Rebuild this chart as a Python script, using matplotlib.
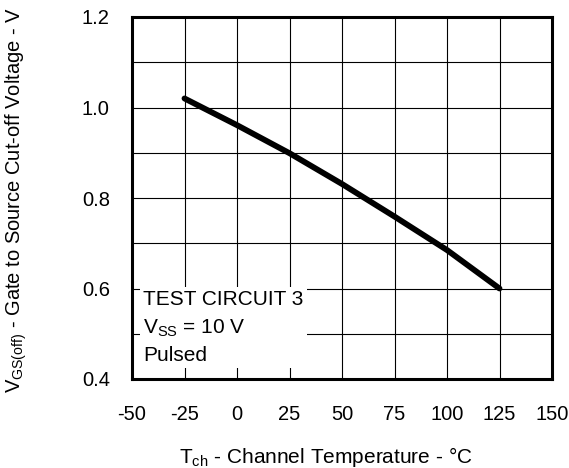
import matplotlib
matplotlib.use("Agg")
import matplotlib.pyplot as plt
from matplotlib.ticker import MultipleLocator

plt.rcParams['font.family'] = ['Liberation Sans', 'DejaVu Sans']
plt.rcParams['mathtext.fontset'] = 'custom'
plt.rcParams['mathtext.rm'] = 'Liberation Sans'
plt.rcParams['mathtext.it'] = 'Liberation Sans'
plt.rcParams['mathtext.bf'] = 'Liberation Sans'

temperature = [-25, 0, 25, 50, 75, 100, 125]
vgs_off = [1.02, 0.961, 0.899, 0.831, 0.759, 0.685, 0.600]

x_ticks = [-50, -25, 0, 25, 50, 75, 100, 125, 150]
y_ticks = [0.4, 0.6, 0.8, 1.0, 1.2]
y_tick_labels = ['0.4', '0.6', '0.8', '1.0', '1.2']

fig = plt.figure(figsize=(5.69, 4.68), dpi=100)
ax = fig.add_axes([132/569, 1-379/468, 420/569, 362/468])

ax.plot(temperature, vgs_off, color='black', lw=4.2, solid_capstyle='round', zorder=4)

ax.set_xlim(-50, 150)
ax.set_ylim(0.4, 1.2)
ax.set_xticks(x_ticks)
ax.set_xticklabels([str(t) for t in x_ticks])
ax.set_yticks(y_ticks)
ax.set_yticklabels(y_tick_labels)
ax.yaxis.set_minor_locator(MultipleLocator(0.1))
ax.grid(True, which='both', color='black', lw=0.8)
ax.set_axisbelow(True)
ax.tick_params(which='both', length=0, labelsize=14.5)
ax.tick_params(axis='x', pad=19)
ax.tick_params(axis='y', pad=16)
for s in ax.spines.values():
    s.set_linewidth(2.2)
    s.set_zorder(6)

ax.set_xlabel(r'T$_{\mathrm{ch}}$ - Channel Temperature - °C', fontsize=15, va='top')
ax.xaxis.set_label_coords(0.462, -0.183)
ax.set_ylabel(r'V$_{\mathrm{GS(off)}}$ - Gate to Source Cut-off Voltage - V', fontsize=14.5)
ax.yaxis.set_label_coords(-0.245, 0.494)

ax.text(0.027, 0.245, 'TEST CIRCUIT 3\nV$_{\\mathrm{SS}}$ = 10 V\nPulsed',
        transform=ax.transAxes, fontsize=15, va='top', ha='left', linespacing=1.5,
        bbox=dict(boxstyle='square,pad=0.15', fc='white', ec='none'), zorder=5)

fig.savefig('out.png', dpi=100)
